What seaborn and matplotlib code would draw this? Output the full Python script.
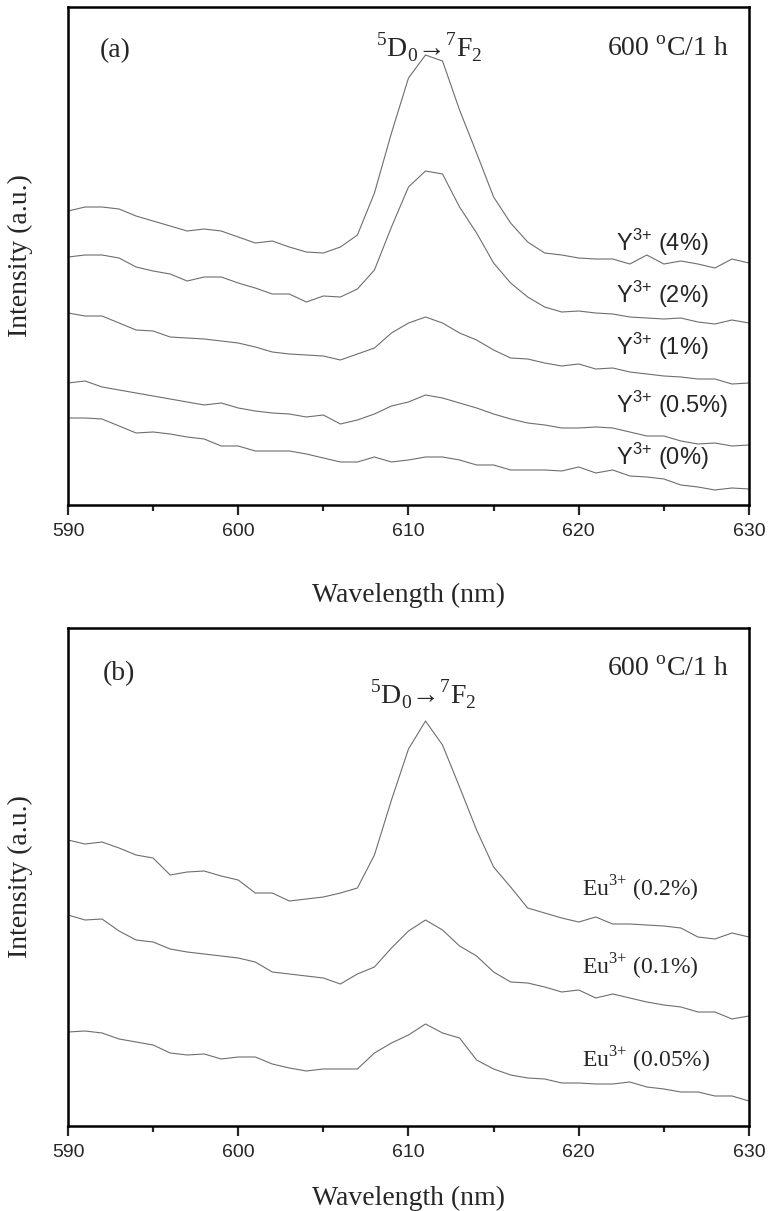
import numpy as np
import pandas as pd
import matplotlib
matplotlib.use("Agg")
import matplotlib.pyplot as plt
import seaborn as sns
from matplotlib.ticker import MultipleLocator

sns.set_style("ticks")
plt.rcParams["font.family"] = ["Liberation Serif", "DejaVu Serif"]
plt.rcParams["mathtext.fontset"] = "custom"
plt.rcParams["mathtext.rm"] = "Liberation Serif"
plt.rcParams["mathtext.sf"] = "Liberation Sans"

# wavelength grid (nm), one point per nm
wavelength = list(range(590, 631))

# panel (a): Y3+ co-doping series (arbitrary units, offset stacked as drawn)
y_4 = [294, 298, 298, 296, 289, 284, 279, 274, 276, 274, 268, 262, 264, 258, 253, 252, 258, 270,
       312, 372, 427, 450, 444, 395, 352, 308, 282, 263, 252, 250, 247, 246, 246, 241, 250, 241,
       244, 241, 237, 246, 242]
y_2 = [248, 250, 250, 247, 238, 234, 231, 224, 228, 228, 222, 217, 211, 211, 203, 209, 208, 216,
       235, 278, 318, 334, 331, 298, 272, 242, 222, 208, 198, 193, 194, 192, 191, 188, 187, 186,
       187, 183, 181, 185, 182]
y_1 = [192, 189, 189, 182, 175, 174, 168, 167, 166, 164, 162, 158, 153, 151, 150, 149, 145, 151,
       157, 172, 182, 188, 182, 172, 165, 155, 147, 146, 142, 139, 141, 136, 137, 133, 131, 129,
       128, 126, 126, 121, 122]
y_05 = [122, 124, 118, 115, 112, 109, 106, 103, 100, 102, 97, 94, 92, 91, 88, 90, 81, 85,
        91, 99, 103, 110, 107, 102, 97, 91, 86, 82, 80, 77, 77, 78, 77, 73, 69, 69,
        64, 61, 62, 59, 60]
y_0 = [87, 87, 86, 79, 72, 73, 71, 68, 66, 59, 59, 54, 54, 54, 51, 47, 43, 43,
       48, 43, 45, 48, 48, 45, 40, 40, 35, 35, 35, 34, 38, 32, 35, 29, 28, 26,
       20, 18, 15, 17, 16]
labels_a = ["4%", "2%", "1%", "0.5%", "0%"]
label_y_a = [262, 210, 158, 100, 48]

# panel (b): Eu3+ concentration series
eu_02 = [286, 282, 284, 278, 271, 268, 251, 254, 255, 250, 246, 233, 233, 225, 227, 229, 233, 238,
         271, 326, 377, 405, 381, 339, 296, 259, 239, 218, 213, 208, 204, 209, 202, 202, 201, 200,
         198, 189, 187, 193, 189]
eu_01 = [211, 206, 207, 195, 186, 184, 177, 174, 172, 170, 168, 164, 154, 152, 150, 148, 142, 152,
         159, 178, 195, 206, 196, 180, 170, 154, 144, 143, 139, 134, 136, 128, 132, 128, 124, 121,
         119, 114, 114, 107, 110]
eu_005 = [94, 95, 93, 87, 84, 81, 73, 71, 72, 67, 69, 69, 62, 58, 55, 57, 57, 57,
          73, 83, 91, 102, 93, 88, 66, 57, 51, 48, 47, 43, 43, 42, 42, 44, 39, 37,
          34, 34, 30, 30, 25]
labels_b = ["0.2%", "0.1%", "0.05%"]
label_y_b = [237, 159, 66]

line_color = "#6e6e6e"
transition = "$^{5}$D$_{0}$\u2192$^{7}$F$_{2}$"
anneal = "600 $^{\\rm o}$C/1 h"


def long_frame(series, names):
    parts = []
    for vals, name in zip(series, names):
        parts.append(pd.DataFrame({"wl": wavelength, "I": vals, "sample": name}))
    return pd.concat(parts, ignore_index=True)


df_a = long_frame([y_4, y_2, y_1, y_05, y_0], labels_a)
df_b = long_frame([eu_02, eu_01, eu_005], labels_b)

fig = plt.figure(figsize=(7.7, 12.11), dpi=100)
ax_a = fig.add_axes([0.0883, 0.583, 0.8844, 0.4112])
ax_b = fig.add_axes([0.0883, 0.0702, 0.8844, 0.4112])

for ax, df, names, xpad in [(ax_a, df_a, labels_a, 31), (ax_b, df_b, labels_b, 18)]:
    sns.lineplot(data=df, x="wl", y="I", hue="sample", hue_order=names,
                 palette=[line_color] * len(names), linewidth=0.8,
                 legend=False, ax=ax)
    ax.set_xlim(590, 630)
    ax.set_ylim(0, 498)
    ax.set_yticks([])
    ax.xaxis.set_major_locator(MultipleLocator(10))
    ax.xaxis.set_minor_locator(MultipleLocator(5))
    ax.tick_params(axis="x", which="major", direction="out", length=7, width=1.6,
                   labelsize=14, pad=6)
    ax.tick_params(axis="x", which="minor", direction="out", length=4.5, width=1.6)
    for lab in ax.get_xticklabels():
        lab.set_fontfamily("Liberation Sans")
    for sp in ax.spines.values():
        sp.set_visible(True)
        sp.set_linewidth(1.8)
        sp.set_color("black")
    ax.set_xlabel("Wavelength (nm)", fontsize=20, labelpad=xpad)
    ax.set_ylabel("Intensity (a.u.)", fontsize=20, labelpad=25)

# panel (a) annotations
ax_a.text(592.8, 454, "(a)", fontsize=20, ha="center", va="center")
ax_a.text(628.8, 456, anneal, fontsize=20, ha="right", va="center")
ax_a.text(611.2, 458, transition, fontsize=20, ha="center", va="center")
for name, yy in zip(labels_a, label_y_a):
    ax_a.text(622.2, yy, "Y$^{\\mathsf{3{+}}}$ (" + name + ")", fontsize=17, ha="left",
              va="center", family="Liberation Sans")

# panel (b) annotations
ax_b.text(593.0, 452, "(b)", fontsize=20, ha="center", va="center")
ax_b.text(628.8, 457, anneal, fontsize=20, ha="right", va="center")
ax_b.text(610.9, 432, transition, fontsize=20, ha="center", va="center")
for name, yy in zip(labels_b, label_y_b):
    ax_b.text(620.2, yy, "Eu$^{3{+}}$ (" + name + ")", fontsize=17, ha="left", va="center")

fig.savefig("out.png", dpi=100)
